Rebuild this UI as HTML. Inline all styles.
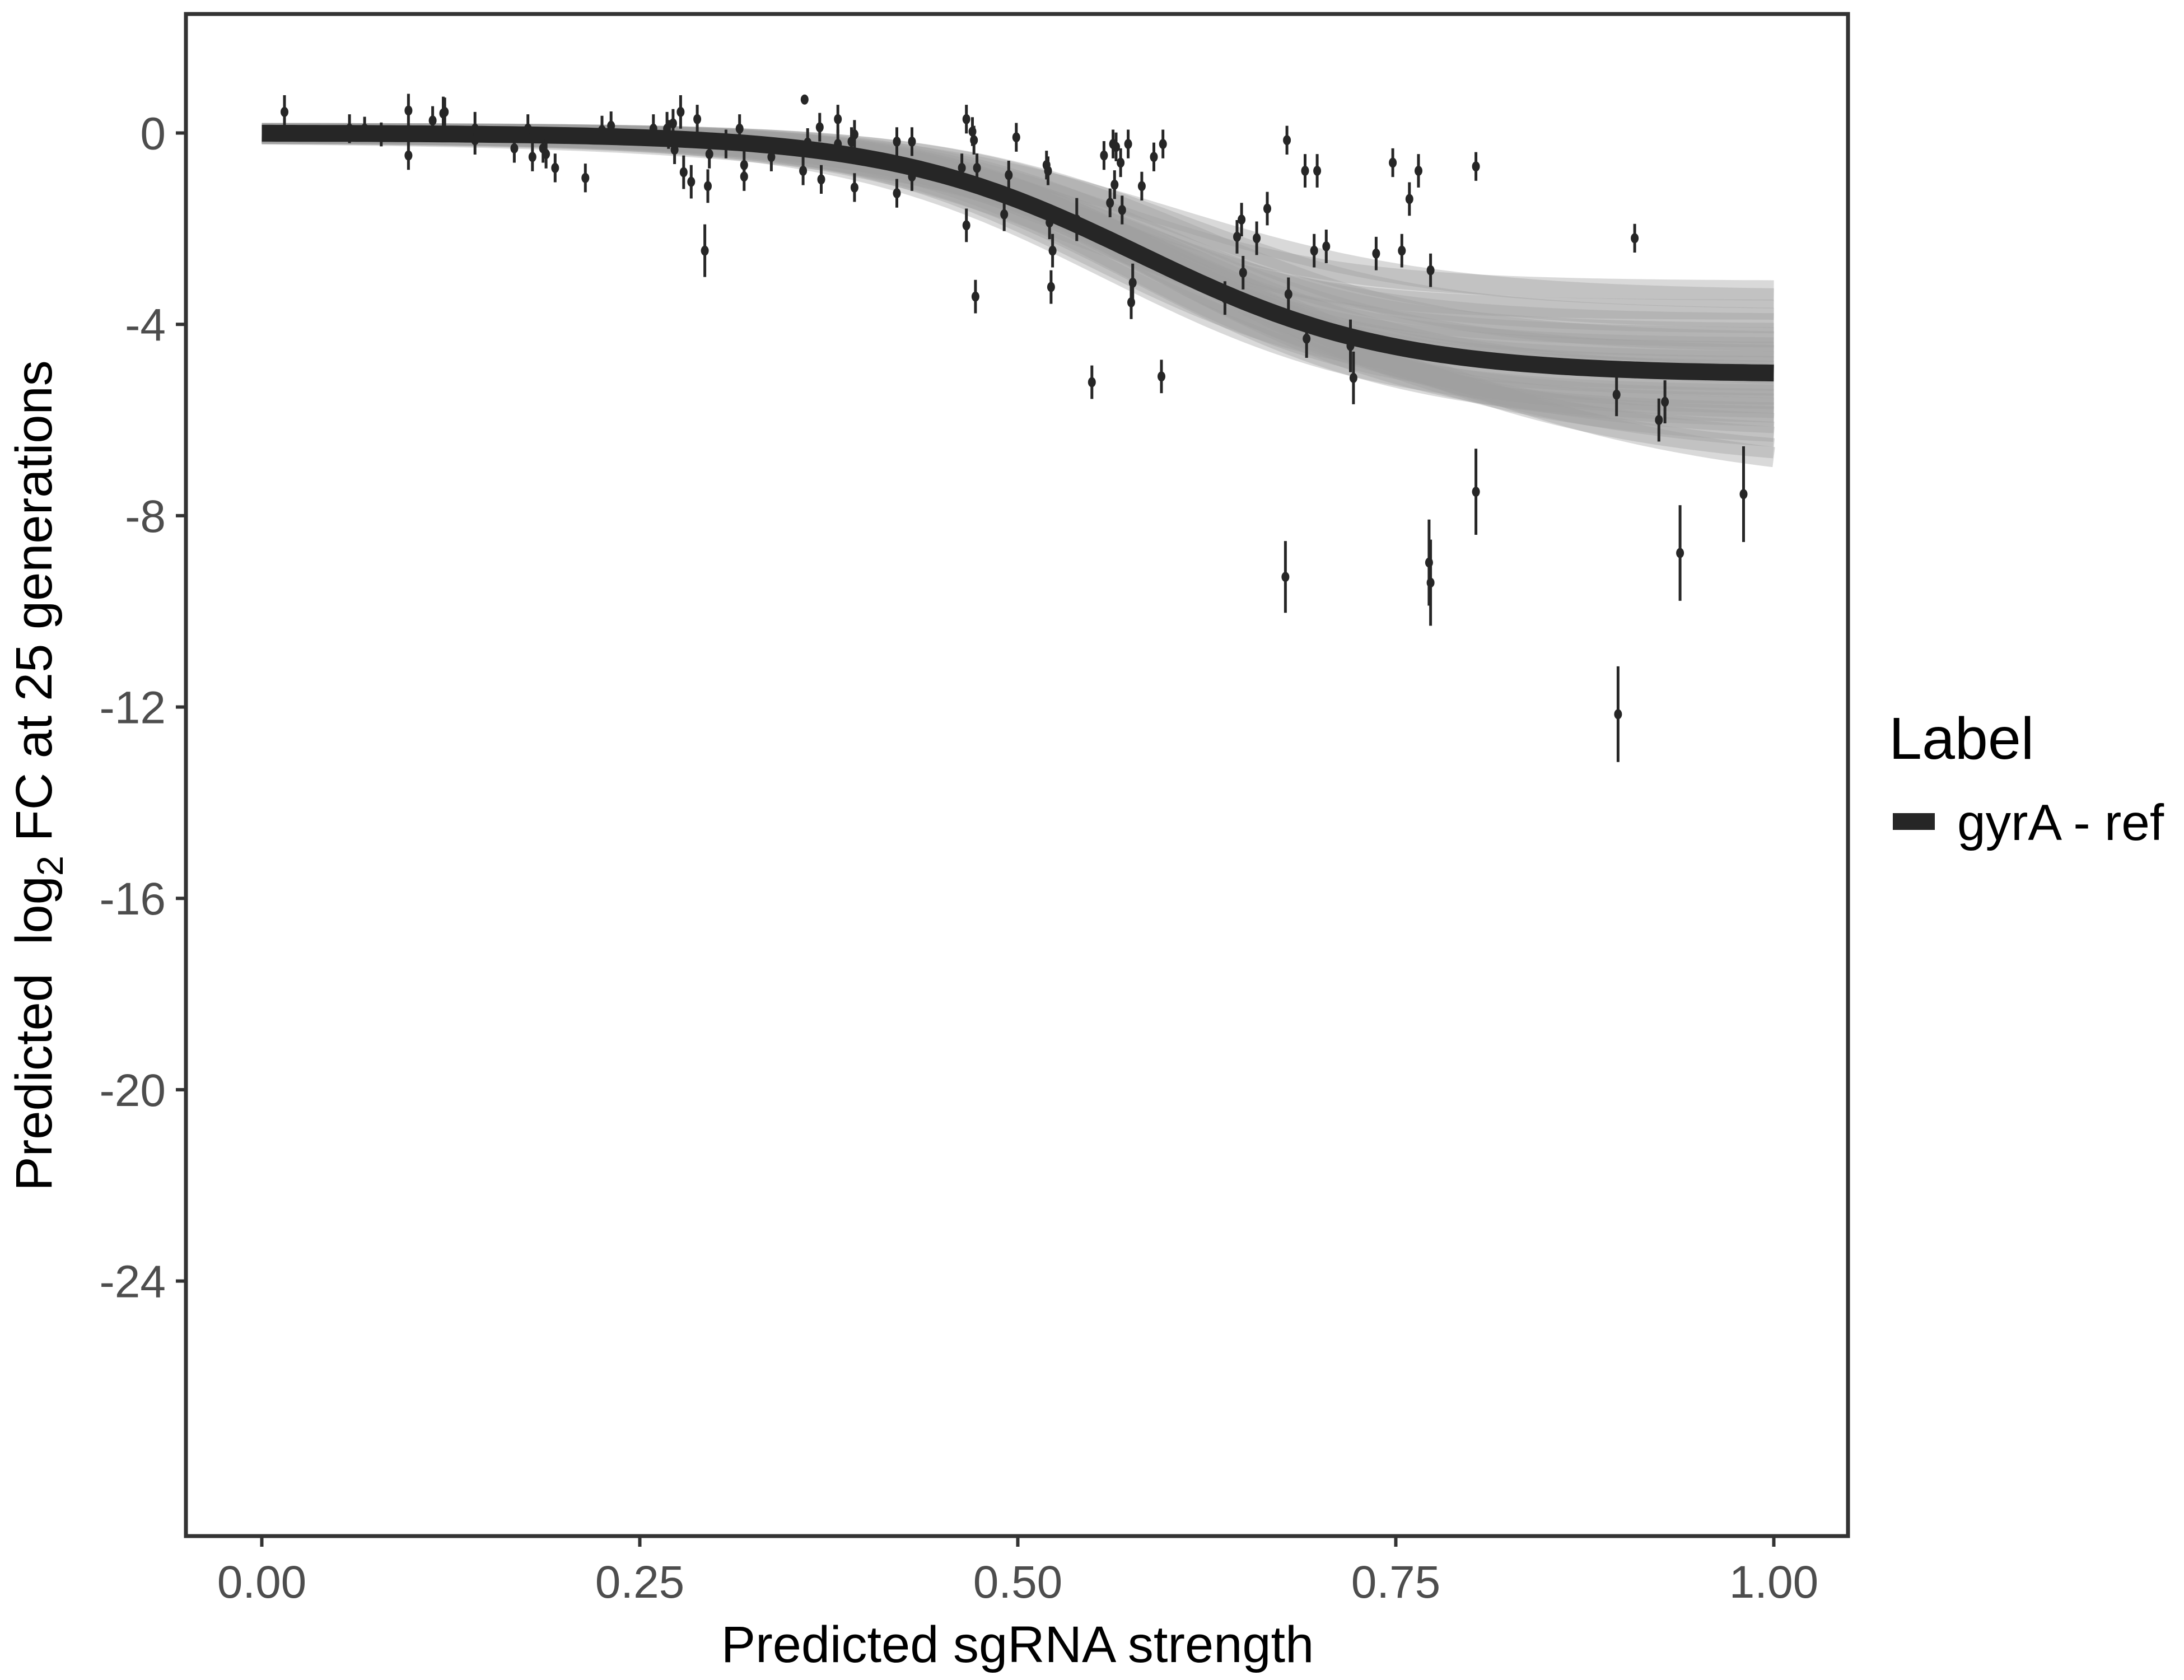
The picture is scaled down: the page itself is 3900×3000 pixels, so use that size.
<!DOCTYPE html>
<html><head><meta charset="utf-8"><style>
html,body{margin:0;padding:0;background:#fff;}
svg{display:block;font-family:"Liberation Sans",sans-serif;}
</style></head><body>
<svg id="chart" width="3900" height="3000" viewBox="0 0 3900 3000" xmlns="http://www.w3.org/2000/svg">
<rect x="0" y="0" width="3900" height="3000" fill="#fff"/>
<g id="draws"></g>
<g id="fit"></g>
<g id="pts"></g>
<rect x="332" y="25" width="2968" height="2718" fill="none" stroke="#333" stroke-width="7"/>
<g id="axes"></g>
<text x="1817" y="2968" text-anchor="middle" font-size="92" fill="#000">Predicted sgRNA strength</text>
<text transform="translate(92,1385) rotate(-90)" text-anchor="middle" font-size="92" fill="#000" xml:space="preserve">Predicted  log<tspan font-size="65" dy="20">2</tspan><tspan dy="-20"> FC at 25 generations</tspan></text>
<text x="3373" y="1355" font-size="106" fill="#000">Label</text>
<rect x="3380" y="1452" width="75" height="30" fill="#262626"/>
<text x="3495" y="1500" font-size="91" fill="#000">gyrA - ref</text>
</svg>
<script>
const xTicks = [0, 0.25, 0.5, 0.75, 1];
const xTickLabels = ["0.00","0.25","0.50","0.75","1.00"];
const yTicks = [0,-4,-8,-12,-16,-20,-24];
const yTickLabels = ["0","-4","-8","-12","-16","-20","-24"];
const fitA = -5.05, fitX0 = 0.58, fitK = 12;
const drawA = [-3.3,-3.5,-3.7,-3.9,-4.0,-4.2,-4.3,-4.4,-4.5,-4.6,-4.7,-4.8,-4.9,-5.0,-5.1,-5.2,-5.3,-5.4,-5.5,-5.6,-5.7,-5.8,-5.9,-6.0,-6.2,-6.4,-6.6,-6.9,-7.3];
const drawX0 = [0.56,0.60,0.55,0.61,0.57,0.59,0.54,0.62,0.58,0.56,0.60,0.57,0.59,0.58,0.61,0.55,0.58,0.60,0.57,0.59,0.56,0.61,0.58,0.60,0.62,0.63,0.64,0.66,0.68];
const drawK = [13,11,14,12,12,13,11,12,13,12,11,12,13,12,11,12,13,11,12,12,11,12,11,11,10,10,9,9,8];
const ptX = [0.015,0.058,0.068,0.079,0.097,0.097,0.113,0.120,0.121,0.141,0.141,0.167,0.176,0.179,0.186,0.188,0.194,0.214,0.225,0.231,0.259,0.268,0.269,0.272,0.273,0.277,0.279,0.284,0.288,0.293,0.295,0.296,0.307,0.316,0.319,0.319,0.337,0.358,0.359,0.361,0.369,0.370,0.381,0.381,0.390,0.392,0.392,0.420,0.420,0.430,0.430,0.463,0.466,0.466,0.470,0.471,0.472,0.473,0.491,0.494,0.499,0.519,0.520,0.521,0.522,0.523,0.539,0.549,0.557,0.561,0.563,0.564,0.565,0.568,0.569,0.573,0.575,0.576,0.582,0.590,0.595,0.596,0.637,0.645,0.648,0.649,0.658,0.665,0.677,0.678,0.679,0.690,0.691,0.698,0.696,0.704,0.720,0.722,0.737,0.748,0.754,0.759,0.765,0.772,0.773,0.773,0.803,0.803,0.896,0.897,0.908,0.924,0.928,0.938,0.980];
const ptY = [0.44,0.09,0.09,-0.03,0.47,-0.47,0.26,0.41,0.44,0.09,-0.15,-0.32,0.09,-0.50,-0.32,-0.44,-0.73,-0.94,0.06,0.15,0.09,0.09,-0.03,0.20,-0.35,0.44,-0.82,-1.02,0.29,-2.46,-1.11,-0.44,-0.23,0.09,-0.67,-0.91,-0.50,-0.79,0.70,-0.20,0.12,-0.97,0.29,-0.23,-0.18,-1.14,-0.03,-0.18,-1.26,-0.91,-0.18,-0.73,-1.93,0.29,0.03,-0.15,-3.42,-0.73,-1.70,-0.88,-0.09,-0.67,-0.79,-1.87,-3.22,-2.46,-1.81,-5.21,-0.47,-1.46,-0.23,-1.08,-0.29,-0.62,-1.61,-0.23,-3.54,-3.13,-1.11,-0.50,-5.09,-0.23,-3.45,-2.17,-1.81,-2.92,-2.20,-1.58,-9.28,-0.15,-3.37,-0.79,-4.30,-0.79,-2.46,-2.37,-4.45,-5.12,-2.52,-0.62,-2.46,-1.38,-0.79,-8.98,-2.87,-9.40,-7.50,-0.70,-5.47,-12.15,-2.20,-6.00,-5.62,-8.78,-7.55];
const ptE = [0.35,0.3,0.25,0.25,0.35,0.3,0.3,0.35,0.3,0.35,0.3,0.3,0.3,0.3,0.3,0.3,0.3,0.3,0.3,0.3,0.3,0.35,0.3,0.3,0.3,0.35,0.35,0.35,0.3,0.55,0.35,0.3,0.3,0.3,0.3,0.3,0.3,0.3,0.05,0.3,0.3,0.3,0.3,0.3,0.3,0.3,0.3,0.3,0.3,0.3,0.3,0.3,0.35,0.3,0.3,0.3,0.35,0.3,0.35,0.3,0.3,0.3,0.3,0.35,0.35,0.35,0.45,0.35,0.3,0.3,0.3,0.3,0.3,0.3,0.3,0.3,0.35,0.4,0.3,0.3,0.35,0.3,0.35,0.35,0.35,0.35,0.35,0.35,0.75,0.3,0.35,0.35,0.4,0.35,0.35,0.35,0.55,0.55,0.35,0.3,0.35,0.35,0.35,0.9,0.35,0.9,0.9,0.3,0.45,1.0,0.3,0.45,0.45,1.0,1.0];

const NS="http://www.w3.org/2000/svg";
const X0=467.5, X1=3167.5;
function sx(v){return X0+(X1-X0)*v;}
function sy(v){return 237.5-85.42*v;}
function mk(tag,attrs,parent){const e=document.createElementNS(NS,tag);for(const k in attrs)e.setAttribute(k,attrs[k]);parent.appendChild(e);return e;}
function logi(A,x0,k,x){return A/(1+Math.exp(-k*(x-x0)));}
function curvePath(A,x0,k){let d="";for(let i=0;i<=200;i++){const x=i/200;d+=(i?"L":"M")+sx(x).toFixed(1)+","+sy(logi(A,x0,k,x)).toFixed(1);}return d;}

const draws=document.getElementById('draws');
for(let i=0;i<drawA.length;i++){
  const p=mk('path',{d:curvePath(drawA[i],drawX0[i],drawK[i]),fill:'none',stroke:'#a0a0a0','stroke-width':36,'stroke-opacity':0.4},draws);
  
  
}
const fit=document.getElementById('fit');
const fl=mk('path',{d:curvePath(fitA,fitX0,fitK),fill:'none',stroke:'#262626','stroke-width':30},fit);



const pts=document.getElementById('pts');
for(let i=0;i<ptX.length;i++){
  const g=mk('g',{},pts);
  
  
  mk('line',{x1:sx(ptX[i]),x2:sx(ptX[i]),y1:sy(ptY[i]+ptE[i]),y2:sy(ptY[i]-ptE[i]),stroke:'#262626','stroke-width':5},g);
  mk('ellipse',{cx:sx(ptX[i]),cy:sy(ptY[i]),rx:7,ry:9,fill:'#262626'},g);
}

const axes=document.getElementById('axes');
for(let i=0;i<xTicks.length;i++){
  const t=mk('line',{x1:sx(xTicks[i]),x2:sx(xTicks[i]),y1:2746,y2:2762,stroke:'#333','stroke-width':6},axes);
  
  
  const l=mk('text',{x:sx(xTicks[i]),y:2853,'text-anchor':'middle','font-size':82,fill:'#4d4d4d'},axes);
  l.textContent=xTickLabels[i];
  
  
}
for(let i=0;i<yTicks.length;i++){
  const t=mk('line',{x1:314,x2:329,y1:sy(yTicks[i]),y2:sy(yTicks[i]),stroke:'#333','stroke-width':6},axes);
  
  
  const l=mk('text',{x:296,y:sy(yTicks[i])+29,'text-anchor':'end','font-size':82,fill:'#4d4d4d'},axes);
  l.textContent=yTickLabels[i];
  
  
}
</script>
</body></html>
